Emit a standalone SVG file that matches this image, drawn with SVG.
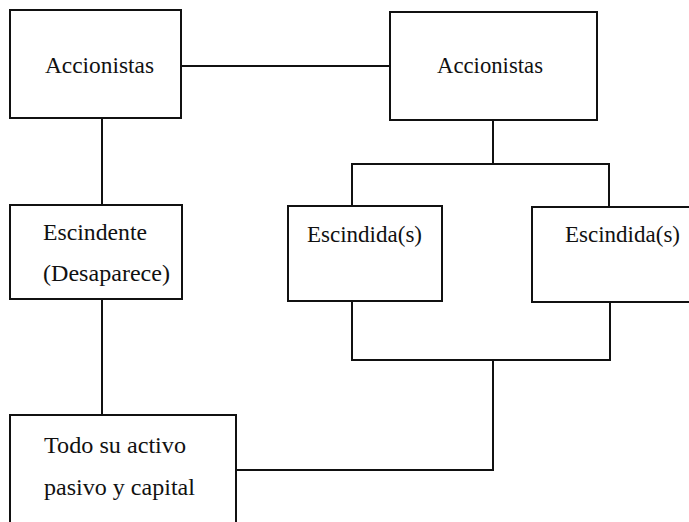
<svg xmlns="http://www.w3.org/2000/svg" width="689" height="522" viewBox="0 0 689 522">
<style>
.box{fill:#fff;stroke:#111;stroke-width:2}
.ln{fill:none;stroke:#111;stroke-width:2}
text{font-family:"Liberation Serif","Times New Roman",serif;font-size:23px;fill:#111}
</style>
<rect width="689" height="522" fill="#fff"/>
<g id="connectors">
<path class="ln" d="M181 66 H390"/>
<path class="ln" d="M102 118 V205"/>
<path class="ln" d="M493 120 V164"/>
<path class="ln" d="M352 206 V164 H609 V207"/>
<path class="ln" d="M352 301 V360 H610 V302"/>
<path class="ln" d="M493 360 V470 H236"/>
<path class="ln" d="M102 299 V415"/>
</g>
<g id="accionistas1">
<rect class="box" x="10" y="10" width="171" height="108"/>
<text x="45" y="73" textLength="109" lengthAdjust="spacingAndGlyphs">Accionistas</text>
</g>
<g id="accionistas2">
<rect class="box" x="390" y="12" width="207" height="108"/>
<text x="437" y="73" textLength="106" lengthAdjust="spacingAndGlyphs">Accionistas</text>
</g>
<g id="escindente">
<rect class="box" x="10" y="205" width="172" height="94"/>
<text x="43" y="240" textLength="104" lengthAdjust="spacingAndGlyphs">Escindente</text>
<text x="43" y="281" textLength="127" lengthAdjust="spacingAndGlyphs">(Desaparece)</text>
</g>
<g id="escindida1">
<rect class="box" x="288" y="206" width="154" height="95"/>
<text x="307" y="242" textLength="115" lengthAdjust="spacingAndGlyphs">Escindida(s)</text>
</g>
<g id="escindida2">
<rect class="box" x="532" y="207" width="160" height="95"/>
<text x="565" y="242" textLength="115" lengthAdjust="spacingAndGlyphs">Escindida(s)</text>
</g>
<g id="todo">
<path class="box" d="M10 530 V415 H236 V530"/>
<text x="44" y="453" textLength="142" lengthAdjust="spacingAndGlyphs">Todo su activo</text>
<text x="44" y="495" textLength="151" lengthAdjust="spacingAndGlyphs">pasivo y capital</text>
</g>
</svg>
